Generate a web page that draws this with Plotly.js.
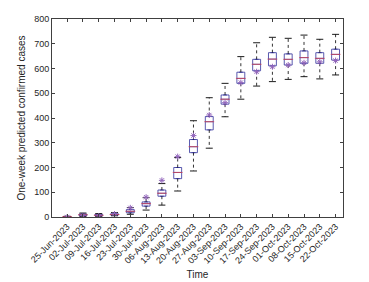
<!DOCTYPE html>
<html>
<head>
<meta charset="utf-8">
<script src="https://cdn.plot.ly/plotly-3.0.1.min.js"></script>
<style>html,body{margin:0;padding:0;background:#fff;}#chart{width:369px;height:282px;}</style>
</head>
<body>
<div id="chart"></div>
<script>
const dates = ['25-Jun-2023','02-Jul-2023','09-Jul-2023','16-Jul-2023','23-Jul-2023','30-Jul-2023','06-Aug-2023','13-Aug-2023','20-Aug-2023','27-Aug-2023','03-Sep-2023','10-Sep-2023','17-Sep-2023','24-Sep-2023','01-Oct-2023','08-Oct-2023','15-Oct-2023','22-Oct-2023'];
const lowerWhisker = [0, 2, 2, 5, 11, 28, 48, 105, 186, 278, 405, 476, 529, 547, 556, 567, 558, 574];
const q1 = [0, 6, 5, 8, 17, 44, 84, 155, 260, 352, 456, 540, 591, 611, 614, 621, 621, 634];
const median = [1, 9, 7, 10, 23, 54, 96, 180, 284, 385, 476, 560, 617, 638, 637, 644, 641, 657];
const q3 = [2, 12, 10, 13, 30, 61, 109, 200, 313, 406, 493, 585, 637, 664, 659, 671, 664, 678];
const upperWhisker = [3, 16, 14, 18, 38, 78, 135, 240, 389, 482, 540, 648, 704, 726, 722, 735, 718, 738];
const actual = [0, 5, 4, 12, 37, 80, 148, 244, 329, 412, 462, 543, 587, 607, 614, 623, 627, 632];
const yTicks = [0, 100, 200, 300, 400, 500, 600, 700, 800];

// whisker segments built from the arrays
const wx = [], wy = [];
dates.forEach((d, i) => {
  wx.push(d, d, null, d, d, null);
  wy.push(q3[i], upperWhisker[i], null, q1[i], lowerWhisker[i], null);
});

const traces = [
  {type: 'scatter', mode: 'lines', x: wx, y: wy, line: {color: '#000', width: 0.8, dash: '3px,3px'}, hoverinfo: 'skip', showlegend: false},
  {type: 'scatter', mode: 'markers', x: dates.concat(dates), y: upperWhisker.concat(lowerWhisker),
   marker: {symbol: 'line-ew', size: 5, line: {color: '#000', width: 0.9}}, hoverinfo: 'skip', showlegend: false},
  {type: 'box', x: dates, q1: q1, median: median, q3: q3, lowerfence: q1, upperfence: q3,
   width: 0.5, line: {color: '#30309a', width: 0.8}, fillcolor: 'rgba(0,0,0,0)', boxpoints: false, hoverinfo: 'skip', showlegend: false},
  {type: 'scatter', mode: 'markers', x: dates, y: median,
   marker: {symbol: 'line-ew', size: 7, line: {color: '#d04050', width: 0.8}}, hoverinfo: 'skip', showlegend: false},
  {type: 'scatter', mode: 'markers', x: dates, y: actual,
   marker: {symbol: 'asterisk-open', size: 5, line: {color: '#2848a8', width: 1}}, hoverinfo: 'skip', showlegend: false}
];

const fam = 'Liberation Sans, Arial, sans-serif';
const layout = {
  width: 369, height: 282,
  margin: {l: 52, r: 26, t: 19, b: 65},
  paper_bgcolor: '#fff', plot_bgcolor: '#fff',
  showlegend: false,
  xaxis: {
    type: 'category', categoryorder: 'array', categoryarray: dates,
    range: [-0.96, 17.47], tickangle: -45,
    ticks: 'inside', ticklen: 3, tickcolor: '#404040',
    showline: true, linecolor: '#404040', linewidth: 1, mirror: 'ticks',
    showgrid: false, zeroline: false,
    tickfont: {family: fam, size: 9, color: '#262626'},
    title: {text: 'Time', font: {family: fam, size: 10, color: '#262626'}, standoff: 6}
  },
  yaxis: {
    range: [0, 800], tickvals: yTicks, ticktext: yTicks.map(String),
    ticks: 'inside', ticklen: 3, tickcolor: '#404040',
    showline: true, linecolor: '#404040', linewidth: 1, mirror: 'ticks',
    showgrid: false, zeroline: false,
    tickfont: {family: fam, size: 9, color: '#262626'},
    title: {text: 'One-week predicted confirmed cases', font: {family: fam, size: 10, color: '#262626'}, standoff: 6}
  }
};

Plotly.newPlot('chart', traces, layout, {staticPlot: true, displayModeBar: false});
</script>
</body>
</html>
